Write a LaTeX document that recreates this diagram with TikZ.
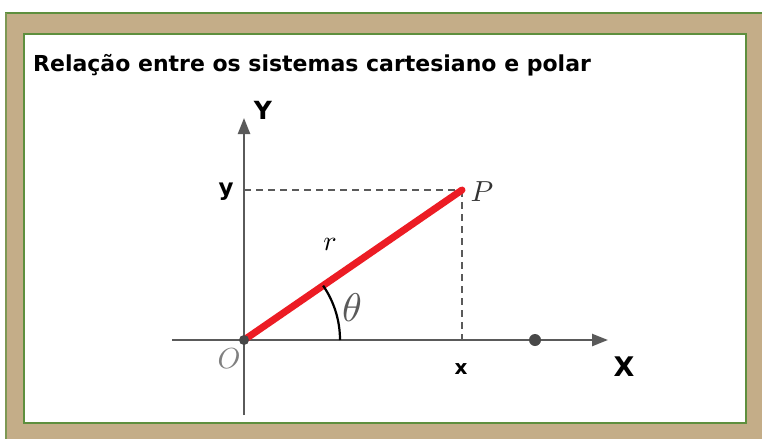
\documentclass[tikz,border=0pt]{standalone}
\usepackage{fontspec}
\setsansfont{DejaVu Sans}
\usetikzlibrary{arrows.meta}
\definecolor{wood}{HTML}{C4AD88}
\definecolor{framegreen}{HTML}{5E8F3E}
\definecolor{axisgray}{HTML}{5A5A5A}
\definecolor{polred}{HTML}{EC1C24}
\tikzset{
  lbl/.style={font=\sffamily\bfseries, inner sep=0pt},
  mlbl/.style={font=\normalsize, inner sep=0pt},
  axis/.style={draw=axisgray, line width=2.4pt},
  guide/.style={draw=axisgray, line width=1.6pt, dash pattern=on 7pt off 5pt},
  dotmark/.style={circle, fill=axisgray!80!black, inner sep=0pt, minimum size=10pt}
}
\begin{document}
\begin{tikzpicture}[x=1pt,y=-1pt]
\useasboundingbox (0,0) rectangle (762,439);
% frame
\fill[white] (0,0) rectangle (762,439);
\fill[wood] (5,12) rectangle (762,439);
\draw[framegreen, line width=2.5pt] (5,13) -- (762,13);
\draw[framegreen!70!wood, line width=2pt] (6,13) -- (6,439);
\fill[white] (24,34) rectangle (746,423);
\draw[framegreen, line width=2.5pt] (24,34) rectangle (746,423);
% title
\node[lbl, anchor=west, font=\sffamily\bfseries\fontsize{22}{26}\selectfont] (title) at (33,65) {Relação entre os sistemas cartesiano e polar};
% coordinates
\coordinate (O) at (244,340);
\coordinate (P) at (462,190);
\coordinate (xs) at (172,340);
\coordinate (xe) at (608,340);
\coordinate (ys) at (244,415);
\coordinate (ye) at (244,118);
\coordinate (yp) at (244,190);
\coordinate (xp) at (462,340);
% guides
\draw[guide] (yp) -- (P);
\draw[guide] (P) -- (xp);
% axes
\draw[axis, -{Triangle[length=16pt,width=12pt]}] (xs) -- (xe);
\draw[axis, -{Triangle[length=16pt,width=12pt]}] (ys) -- (ye);
% radius
\draw[polred, line width=7pt, line cap=round] (O) -- (P);
% angle arc
\draw[black, line width=2.2pt] (340,340) arc[start angle=0, end angle=-34.5, radius=96];
% dots
\node[dotmark] (odot) at (O) {};
\node[dotmark, minimum size=12pt] (xdot) at (535,340) {};
% labels
\node[mlbl, text=axisgray] (theta) at (352,308) {\scalebox{4}{$\theta$}};
\node[mlbl] (r) at (330,244) {\scalebox{2.8}{$r$}};
\node[mlbl, text=black!80] (Plbl) at (482,192) {\scalebox{2.9}{$P$}};
\node[mlbl, text=gray] (Olbl) at (229,359) {\scalebox{2.9}{$O$}};
\node[lbl, font=\sffamily\bfseries\fontsize{25}{26}\selectfont] (Ylbl) at (263,110) {Y};
\node[lbl, font=\sffamily\bfseries\fontsize{23}{26}\selectfont] (ylbl) at (226,192) {y};
\node[lbl, font=\sffamily\bfseries\fontsize{20}{22}\selectfont] (xlbl) at (461,369) {x};
\node[lbl, font=\sffamily\bfseries\fontsize{27}{28}\selectfont] (Xlbl) at (624,367) {X};
\end{tikzpicture}
\end{document}
